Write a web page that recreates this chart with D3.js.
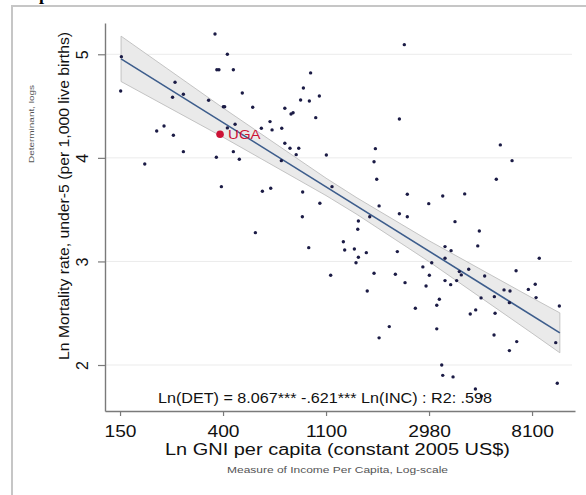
<!DOCTYPE html>
<html><head><meta charset="utf-8">
<script src="https://cdn.jsdelivr.net/npm/d3@7"></script>
<style>body{margin:0;background:#fff}svg{display:block}</style>
</head><body>
<svg id="c" width="586" height="495"></svg>
<script>
// ---- data (log units) ----
const lnGNI = [5.922,6.042,5.013,5.94,5.96,6.10,6.85,5.534,5.006,6.78,5.615,5.51,6.187,5.86,6.753,6.838,6.935,
  6.003,6.016,6.288,6.60,6.68,6.66,6.90,5.356,5.427,5.518,6.042,6.117,6.372,6.456,6.476,6.57,6.60,6.65,6.735,
  6.71,5.615,6.10,5.935,6.158,5.24,6.566,5.984,6.382,6.463,6.773,6.77,6.94,
  7.058,7.003,7.479,7.466,7.492,7.424,7.515,7.712,7.789,7.789,7.997,8.133,8.346,8.653,8.692,8.806,7.712,7.76,
  6.314,6.832,
  7.314,7.308,8.252,8.488,7.168,7.181,7.275,7.314,7.291,7.391,7.692,8.155,8.214,8.473,8.155,8.026,7.94,9.07,
  7.045,7.466,7.673,7.767,8.003,7.971,8.155,8.21,8.268,8.294,8.313,8.385,8.54,8.845,9.031,8.964,8.728,8.786,
  8.634,8.505,8.78,9.039,7.4,8.1,8.075,7.867,8.453,8.40,8.641,9.265,7.614,8.075,7.515,8.631,8.851,8.78,9.23,
  8.123,8.133,8.233,8.45,8.508,9.245];
const lnMort = [5.196,5.00,4.977,4.85,4.85,4.85,4.82,4.73,4.646,4.675,4.614,4.585,4.626,4.556,4.559,4.549,4.597,
  4.494,4.494,4.488,4.479,4.436,4.424,4.388,4.26,4.308,4.218,4.289,4.324,4.286,4.35,4.27,4.286,4.141,4.093,4.093,
  4.031,4.06,4.06,4.006,3.986,3.941,3.973,3.722,3.678,3.707,3.671,3.432,3.562,
  3.722,4.028,4.089,3.963,3.793,3.432,3.536,3.461,3.432,3.649,3.558,3.632,3.652,3.793,4.125,3.973,4.375,5.093,
  3.278,3.133,
  3.391,3.311,3.384,3.294,3.19,3.11,3.12,3.04,2.988,3.085,3.095,3.143,3.104,3.15,3.031,2.988,2.947,3.031,
  2.866,2.886,2.876,2.795,2.866,2.763,2.815,2.776,2.815,2.902,2.87,2.925,2.86,2.91,2.78,2.73,2.725,2.715,
  2.66,2.648,2.602,2.651,2.715,2.635,2.577,2.548,2.532,2.493,2.5,2.57,2.371,2.349,2.262,2.29,2.226,2.139,2.216,
  2.0,1.90,1.885,1.769,1.70,1.824];
const highlightLabel = "UGA";
const highlightGNI = 5.971;
const highlightMort = 4.228;
const fitIntercept = 8.067;
const fitSlope = -0.621;
const fitRange = [5.01, 9.27];
const ciGNI  = [5.01, 6.0, 7.0, 7.3, 8.0, 9.0, 9.27];
const ciLow  = [4.737, 4.200, 3.636, 3.454, 2.998, 2.307, 2.118];
const ciHigh = [5.175, 4.482, 3.804, 3.614, 3.200, 2.649, 2.503];
const xTicks = [5, 6, 7, 8, 9];
const xTickLabels = ["150", "400", "1100", "2980", "8100"];
const yTicks = [2, 3, 4, 5];
const equationText = "Ln(DET) = 8.067*** -.621*** Ln(INC) : R2: .598";
const xTitle = "Ln GNI per capita (constant 2005 US$)";
const xSubtitle = "Measure of Income Per Capita, Log-scale";
const yTitle = "Ln Mortality rate, under-5 (per 1,000 live births)";
const ySubtitle = "Determinant, logs";

// ---- drawing ----
const FONT = "'Liberation Sans', Arial, Helvetica, sans-serif";
const svg = d3.select("#c");
const x = d3.scaleLinear().domain([4.854, 9.417]).range([105, 575]);
const y = d3.scaleLinear().domain([1.556, 5.302]).range([411, 23]);

// outer frame
svg.append("path").attr("d", "M12,495V6H586").attr("fill", "none")
  .attr("stroke", "#c6c6c6").attr("stroke-width", 2);
// heading fragment above frame (cut off in the reference too)
svg.append("text").attr("x", 39).attr("y", 0).attr("font-family", "'Liberation Serif', serif")
  .attr("font-weight", "bold").attr("font-size", 18).attr("fill", "#000").text("p");

// gridlines
svg.append("g").selectAll("line").data(yTicks).join("line")
  .attr("x1", 105).attr("x2", 572).attr("y1", d => y(d)).attr("y2", d => y(d))
  .attr("stroke", "#ebebeb").attr("stroke-width", 1);

// confidence band
const ciData = ciGNI.map((g, i) => ({g, lo: ciLow[i], hi: ciHigh[i]}));
svg.append("path").datum(ciData)
  .attr("d", d3.area().x(d => x(d.g)).y0(d => y(d.lo)).y1(d => y(d.hi)))
  .attr("fill", "#eaeaea").attr("stroke", "#bdbdbd").attr("stroke-width", 0.9);

// fit line
svg.append("path").datum(fitRange)
  .attr("d", d3.line().x(d => x(d)).y(d => y(fitIntercept + fitSlope * d)))
  .attr("stroke", "#3d5d8c").attr("stroke-width", 1.6).attr("fill", "none");

// axes
const axC = "#7a7a7a";
const gy = svg.append("g").attr("transform", "translate(105,0)")
  .call(d3.axisLeft(y).tickValues(yTicks).tickSize(7).tickSizeOuter(0).tickFormat(d3.format("d")));
const gx = svg.append("g").attr("transform", "translate(0,411)")
  .call(d3.axisBottom(x).tickValues(xTicks).tickSize(5).tickSizeOuter(0).tickFormat((d, i) => xTickLabels[i]));
[gx, gy].forEach(g => {
  g.select(".domain").attr("stroke", axC).attr("stroke-width", 1.4);
  g.selectAll(".tick line").attr("stroke", axC).attr("stroke-width", 1.2);
  g.selectAll("text").attr("font-family", FONT).attr("font-size", 16).attr("fill", "#111");
});
gy.selectAll("text").attr("transform", "rotate(-90)").attr("x", 0).attr("y", -17.5)
  .attr("dy", 0).attr("text-anchor", "middle");
gx.selectAll("text").attr("y", 26).attr("dy", 0).attr("transform", "scale(1.2,1)");

// points
svg.append("g").selectAll("circle").data(lnGNI.map((g, i) => [g, lnMort[i]])).join("circle")
  .attr("cx", d => x(d[0])).attr("cy", d => y(d[1])).attr("r", 1.7).attr("fill", "#1b1b45");

// highlight
svg.append("circle").attr("cx", x(highlightGNI)).attr("cy", y(highlightMort)).attr("r", 3.8).attr("fill", "#cc1235");
svg.append("text").attr("transform", `translate(${x(highlightGNI) + 8},${y(highlightMort) + 4.5}) scale(1.2,1)`)
  .attr("font-family", FONT).attr("font-size", 12.5).attr("fill", "#cc1235").text(highlightLabel);

// equation
svg.append("text").attr("x", 158).attr("y", 403).attr("font-family", FONT).attr("font-size", 14)
  .attr("fill", "#111").attr("textLength", 334).attr("lengthAdjust", "spacingAndGlyphs").text(equationText);

// x titles
svg.append("text").attr("x", 165).attr("y", 455).attr("font-family", FONT).attr("font-size", 16)
  .attr("fill", "#111").attr("textLength", 345).attr("lengthAdjust", "spacingAndGlyphs").text(xTitle);
svg.append("text").attr("x", 227).attr("y", 472.5).attr("font-family", FONT).attr("font-size", 9.5)
  .attr("fill", "#555").attr("textLength", 221).attr("lengthAdjust", "spacingAndGlyphs").text(xSubtitle);

// y titles
svg.append("text").attr("transform", "translate(68.5,196) rotate(-90)").attr("text-anchor", "middle")
  .attr("font-family", FONT).attr("font-size", 14).attr("fill", "#111")
  .attr("textLength", 328).attr("lengthAdjust", "spacingAndGlyphs").text(yTitle);
svg.append("text").attr("transform", "translate(34,124) rotate(-90)").attr("text-anchor", "middle")
  .attr("font-family", FONT).attr("font-size", 8).attr("fill", "#555")
  .attr("textLength", 78).attr("lengthAdjust", "spacingAndGlyphs").text(ySubtitle);
</script>
</body></html>
